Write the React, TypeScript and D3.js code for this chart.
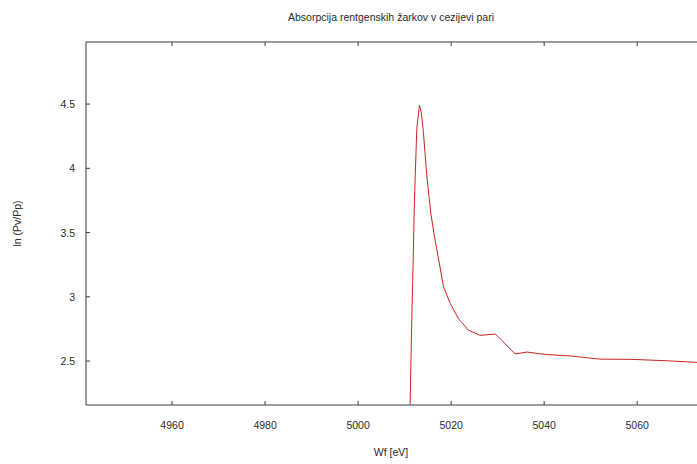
import React from "react";
import * as d3 from "d3";

const energy = [5010.9, 5011.18, 5011.55, 5011.89, 5012.04, 5012.26, 5012.62, 5013.18, 5013.6, 5014.04, 5014.77, 5015.63, 5016.4, 5017.27, 5018.34, 5019.78, 5021.57, 5023.72, 5026.24, 5029.46, 5030.1, 5033.76, 5036.28, 5038.43, 5040.58, 5045.6, 5052.0, 5059.1, 5066.4, 5072.9, 5078.0];
const lnRatio = [1.9, 2.17, 2.845, 3.36, 3.64, 3.92, 4.31, 4.49, 4.43, 4.28, 3.94, 3.65, 3.47, 3.3, 3.08, 2.95, 2.83, 2.74, 2.7, 2.71, 2.69, 2.555, 2.57, 2.56, 2.55, 2.54, 2.515, 2.513, 2.502, 2.49, 2.488];

const xTicks = [4960, 4980, 5000, 5020, 5040, 5060];
const yTicks = [2.5, 3, 3.5, 4, 4.5];
const yTickLabels = ["2.5", "3", "3.5", "4", "4.5"];

const title = "Absorpcija rentgenskih žarkov v cezijevi pari";
const xLabel = "Wf [eV]";
const yLabel = "ln (Pv/Pp)";

export default function App() {
  const W = 697, H = 464;
  const left = 86, top = 42, bottom = 405, right = 720;
  const x = d3.scaleLinear().domain([4941.5, 5077.8]).range([left, right]);
  const y = d3.scaleLinear().domain([2.158, 4.983]).range([bottom, top]);
  const pts: [number, number][] = energy.map((e, i) => [e, lnRatio[i]]);
  const line = d3
    .line<[number, number]>()
    .x((d) => x(d[0]))
    .y((d) => y(d[1]))
    .curve(d3.curveLinear);
  const font = "'Liberation Sans', Arial, sans-serif";
  const axisColor = "#3a3a3a";
  const textColor = "#2a2a2a";
  return (
    <svg
      width={W}
      height={H}
      style={{ position: "absolute", left: 0, top: 0, background: "#fff" }}
      fontFamily={font}
    >
      <defs>
        <clipPath id="plotclip">
          <rect x={left} y={top} width={right - left} height={bottom - top} />
        </clipPath>
      </defs>
      <text x={391} y={21} textAnchor="middle" fontSize={10.5} fill={textColor}>
        {title}
      </text>
      <line x1={left} x2={W} y1={top} y2={top} stroke={axisColor} strokeWidth={1} />
      <line x1={left} x2={W} y1={bottom} y2={bottom} stroke={axisColor} strokeWidth={1} />
      <line x1={left} x2={left} y1={top} y2={bottom} stroke={axisColor} strokeWidth={1} />
      {xTicks.map((t) => (
        <g key={t}>
          <line x1={x(t)} x2={x(t)} y1={bottom} y2={bottom - 4} stroke={axisColor} />
          <line x1={x(t)} x2={x(t)} y1={top} y2={top + 4} stroke={axisColor} />
          <text x={x(t)} y={429} textAnchor="middle" fontSize={10.5} fill={textColor}>
            {t}
          </text>
        </g>
      ))}
      {yTicks.map((t, i) => (
        <g key={t}>
          <line x1={left} x2={left + 4} y1={y(t)} y2={y(t)} stroke={axisColor} />
          <text x={75} y={y(t) + 4} textAnchor="end" fontSize={10.5} fill={textColor}>
            {yTickLabels[i]}
          </text>
        </g>
      ))}
      <text x={391} y={456} textAnchor="middle" fontSize={10.5} fill={textColor}>
        {xLabel}
      </text>
      <text
        transform={`translate(21,${(top + bottom) / 2}) rotate(-90)`}
        textAnchor="middle"
        fontSize={10.5}
        fill={textColor}
      >
        {yLabel}
      </text>
      <path
        d={line(pts) || ""}
        fill="none"
        stroke="#cc2222"
        strokeWidth={1}
        clipPath="url(#plotclip)"
      />
    </svg>
  );
}
